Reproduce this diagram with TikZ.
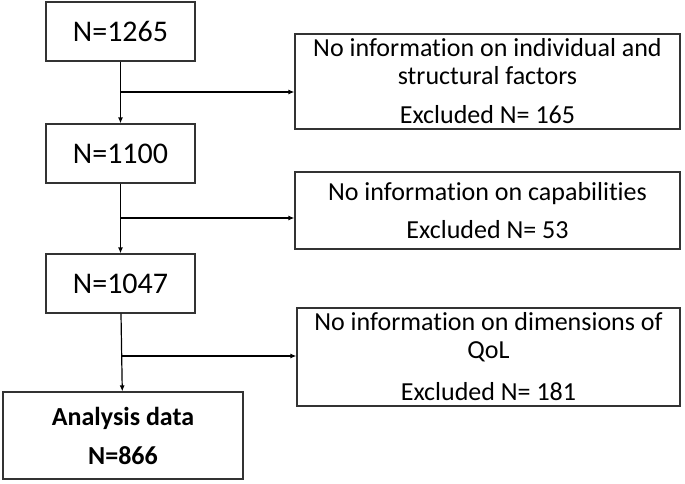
\documentclass[tikz,border=0pt]{standalone}
\usepackage{fontspec}
\setmainfont{Carlito}[Ligatures=NoCommon]
\usetikzlibrary{arrows.meta}

\begin{document}
\begin{tikzpicture}[x=1pt,y=-1pt,>={Latex[length=6pt,width=5pt]},line width=1.2pt]
\tikzstyle{countbox}=[rectangle,draw=black!80,minimum width=149pt,minimum height=59pt,inner sep=0pt,font=\fontsize{30}{36}\selectfont]
\tikzstyle{exclbox}=[rectangle,draw=black!80,minimum width=385pt,inner sep=0pt,align=center,font=\fontsize{26}{28}\selectfont]
\useasboundingbox (0,0) rectangle (685,483);

\node[countbox](N1) at (120.5,31.5) {N=1265};
\node[countbox](N2) at (120.5,153.5) {N=1100};
\node[countbox](N3) at (120.5,283.5) {N=1047};
\node[countbox,minimum width=240pt,minimum height=87pt,align=center,font=\bfseries\fontsize{26}{32}\selectfont](A) at (123,435.5) {Analysis data\\[7pt]N=866};

\node[exclbox,minimum height=95pt](E1) at (487.5,81.5) {No information on individual and\\structural factors\\[11pt]Excluded N= 165};
\node[exclbox,minimum height=77pt](E2) at (487.5,210.5) {No information on capabilities\\[10pt]Excluded N= 53};
\node[exclbox,minimum width=383pt,minimum height=98pt](E3) at (488.5,357) {No information on dimensions of\\QoL\\[14pt]Excluded N= 181};

\coordinate (J1) at (121,92);
\coordinate (J2) at (121,218);
\coordinate (J3) at (122,356);

\draw[->] (N1) -- (N2);
\draw[->] (N2) -- (N3);
\draw[->] (N3) -- (A);
\draw[->] (J1) -- (J1 -| E1.west);
\draw[->] (J2) -- (J2 -| E2.west);
\draw[->] (J3) -- (J3 -| E3.west);
\end{tikzpicture}
\end{document}
